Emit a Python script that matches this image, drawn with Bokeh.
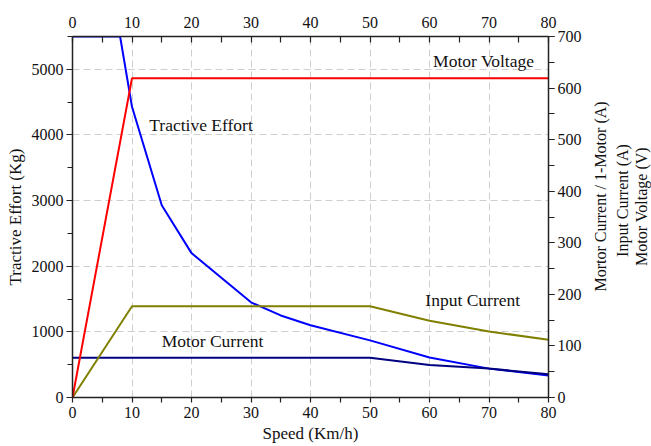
import math
from bokeh.plotting import figure
from bokeh.layouts import row
from bokeh.models import (LinearAxis, Range1d, SingleIntervalTicker, FixedTicker, Label)
from bokeh.embed import file_html
from bokeh.resources import INLINE

# Traction characteristics vs. speed
speed_te = [0, 8, 10, 15, 20, 30, 35, 40, 50, 60, 70, 80]
tractive_effort = [5500, 5500, 4430, 2930, 2200, 1450, 1250, 1100, 870, 610, 440, 335]  # Kg

speed_ic = [0, 10, 50, 60, 70, 80]
input_current = [0, 177, 177, 149, 128, 112]  # A

speed_mc = [0, 50, 60, 70, 80]
motor_current = [77, 77, 63, 56, 45]  # A, per motor

speed_mv = [0, 10, 80]
motor_voltage = [0, 619, 619]  # V

x_ticks = [0, 10, 20, 30, 40, 50, 60, 70, 80]
right_titles = ["Mortor Current / 1-Motor (A)", "Input Current (A)", "Motor Voltage (V)"]

FONT = "Liberation Serif"
AXIS_COLOR = "#222222"

p = figure(width=584, height=446, output_backend="svg", toolbar_location=None,
           x_range=Range1d(0, 80), y_range=Range1d(0, 5500),
           min_border_left=72, min_border_right=33, min_border_top=36,
           min_border_bottom=49, background_fill_color="white",
           border_fill_color="white")
p.outline_line_color = None
p.extra_y_ranges = {"amp": Range1d(0, 700)}


def style_axis(ax):
    ax.axis_line_color = AXIS_COLOR
    ax.axis_line_width = 1.5
    ax.major_tick_line_color = AXIS_COLOR
    ax.minor_tick_line_color = AXIS_COLOR
    ax.major_tick_line_width = 1.2
    ax.minor_tick_line_width = 1.2
    ax.major_label_text_font = FONT
    ax.major_label_text_font_size = "16px"
    ax.major_label_text_color = "#111111"
    ax.axis_label_text_font = FONT
    ax.axis_label_text_font_size = "17px"
    ax.axis_label_text_font_style = "normal"
    ax.axis_label_text_color = "#111111"


# bottom axis
xb = p.xaxis[0]
xb.ticker = FixedTicker(ticks=x_ticks, minor_ticks=list(range(5, 80, 10)))
xb.axis_label = "Speed (Km/h)"
style_axis(xb)
xb.major_tick_out = 5
xb.major_tick_in = 0
xb.minor_tick_out = 5
xb.minor_tick_in = 0
xb.major_label_standoff = 4
xb.axis_label_standoff = 3

# left axis
yl = p.yaxis[0]
yl.ticker = SingleIntervalTicker(interval=1000, num_minor_ticks=2)
yl.axis_label = "Tractive Effort (Kg)"
style_axis(yl)
yl.major_tick_out = 6
yl.major_tick_in = 0
yl.minor_tick_out = 5
yl.minor_tick_in = 0
yl.major_label_standoff = 3
yl.axis_label_standoff = 4

# top axis (ticks point inward)
xt = LinearAxis(ticker=FixedTicker(ticks=x_ticks, minor_ticks=list(range(5, 80, 10))))
style_axis(xt)
xt.major_tick_out = 0
xt.major_tick_in = 6
xt.minor_tick_out = 0
xt.minor_tick_in = 6
xt.major_label_standoff = 9
p.add_layout(xt, "above")

# right axis with current / voltage scale
yr = LinearAxis(y_range_name="amp",
                ticker=SingleIntervalTicker(interval=100, num_minor_ticks=2))
style_axis(yr)
yr.major_tick_out = 6
yr.major_tick_in = 0
yr.minor_tick_out = 6
yr.minor_tick_in = 0
yr.major_label_standoff = 3
p.add_layout(yr, "right")

# grid
p.xgrid.ticker = FixedTicker(ticks=x_ticks)
p.ygrid.ticker = SingleIntervalTicker(interval=1000)
for g in (p.xgrid[0], p.ygrid[0]):
    g.grid_line_color = "#cfcfcf"
    g.grid_line_dash = "7 4"
    g.grid_line_width = 1

# curves
p.line(speed_te, tractive_effort, line_color="#0000ff", line_width=2)
p.line(speed_mc, motor_current, line_color="#000080", line_width=2, y_range_name="amp")
p.line(speed_ic, input_current, line_color="#808000", line_width=2, y_range_name="amp")
p.line(speed_mv, motor_voltage, line_color="#ff0000", line_width=2, y_range_name="amp")

# curve captions
captions = [
    ("Motor Voltage", 60.6, 5130),
    ("Tractive Effort", 12.9, 4150),
    ("Input Current", 59.3, 1480),
    ("Motor Current", 15.0, 855),
]
for txt, x, y in captions:
    p.add_layout(Label(x=x, y=y, text=txt, text_font=FONT, text_font_size="17.5px",
                       text_color="#111111", text_baseline="middle", text_align="left"))

# narrow strip holding the stacked titles of the right-hand scale (reading bottom-to-top);
# its frame is aligned with the main plot's frame, so offsets are measured from that frame
strip = figure(width=67, height=446, output_backend="svg", toolbar_location=None,
               x_range=Range1d(0, 1), y_range=Range1d(0, 1),
               x_axis_location=None, y_axis_location=None,
               min_border=0, min_border_left=0, min_border_right=0,
               min_border_top=0, min_border_bottom=0,
               background_fill_color="white", border_fill_color="white")
strip.outline_line_color = None
strip.grid.visible = False
for title, xpos, ypos in zip(right_titles, [16, 38, 57], [201, 197, 191]):
    strip.add_layout(Label(x=xpos, x_units="screen", y=ypos, y_units="screen",
                           text=title, angle=math.pi / 2,
                           text_font=FONT, text_font_size="16px", text_color="#111111",
                           text_align="center", text_baseline="middle"))

layout = row(p, strip)
open("out.html", "w").write(file_html(layout, INLINE))
